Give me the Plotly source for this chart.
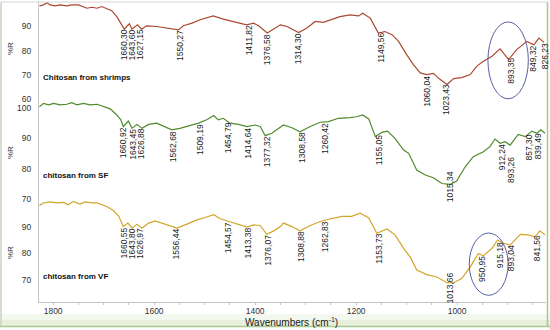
import numpy as np
import plotly.graph_objects as go

# ---------------- data ----------------
shrimp_wn = [1827, 1819, 1812, 1806, 1796, 1786, 1773, 1763, 1750, 1740, 1733, 1723, 1713, 1704, 1694,
             1684, 1674, 1666, 1659, 1653, 1649, 1644, 1638, 1633, 1625, 1615, 1595, 1575, 1562, 1552,
             1542, 1525, 1509, 1483, 1463, 1443, 1417, 1403, 1393, 1376, 1363, 1350, 1337, 1314, 1298,
             1281, 1265, 1248, 1232, 1212, 1195, 1187, 1172, 1156, 1143, 1129, 1116, 1100, 1087, 1073,
             1060, 1047, 1034, 1020, 1007, 991, 974, 961, 948, 931, 915, 898, 882, 862, 848, 838, 828]
shrimp_r = [98.6, 99.0, 99.9, 99.0, 98.6, 99.0, 98.6, 99.0, 99.0, 98.3, 97.6, 98.0, 97.6, 98.3, 97.6,
            96.6, 94.1, 91.4, 88.9, 90.3, 91.1, 88.9, 90.0, 90.7, 88.9, 90.3, 90.0, 89.3, 88.9, 88.6,
            90.3, 91.4, 92.8, 94.4, 93.1, 92.1, 90.7, 91.4, 90.3, 87.3, 88.9, 90.7, 90.0, 87.5, 89.3,
            92.1, 91.7, 92.8, 94.1, 94.8, 94.4, 95.5, 93.5, 87.3, 87.9, 86.6, 83.8, 78.3, 74.2, 70.7,
            70.0, 70.5, 68.0, 65.9, 68.3, 68.7, 70.0, 73.5, 75.5, 77.6, 80.7, 76.2, 80.4, 83.8, 82.4, 85.2, 83.4]

sf_wn = [1827, 1819, 1809, 1799, 1786, 1773, 1763, 1753, 1740, 1727, 1713, 1700, 1687, 1674, 1666,
         1661, 1651, 1644, 1634, 1624, 1611, 1595, 1578, 1565, 1549, 1529, 1512, 1496, 1482, 1473,
         1463, 1450, 1433, 1416, 1400, 1390, 1380, 1367, 1350, 1344, 1327, 1311, 1291, 1271, 1255,
         1235, 1212, 1199, 1187, 1175, 1162, 1149, 1138, 1123, 1106, 1096, 1080, 1063, 1047, 1030,
         1014, 1001, 984, 968, 948, 935, 925, 915, 905, 895, 879, 865, 852, 842, 834, 826]
sf_r = [100.3, 101.4, 100.9, 101.4, 100.9, 101.1, 101.6, 100.9, 101.4, 100.9, 101.1, 100.3, 99.6, 97.6, 96.0,
        93.8, 95.6, 93.2, 94.5, 93.2, 94.5, 94.9, 93.8, 92.7, 93.2, 94.1, 94.9, 96.0, 97.4, 96.0,
        96.5, 94.9, 94.5, 93.8, 94.3, 93.8, 90.8, 91.6, 93.8, 94.3, 93.4, 92.1, 93.8, 95.2, 95.4,
        96.5, 96.7, 97.0, 97.6, 96.3, 90.5, 91.9, 92.3, 89.9, 86.1, 85.0, 79.5, 77.9, 77.0, 75.1,
        74.8, 75.9, 80.6, 83.9, 85.5, 87.2, 89.7, 88.3, 88.8, 87.7, 91.2, 90.5, 92.3, 91.6, 92.7, 91.6]

vf_wn = [1827, 1819, 1806, 1793, 1780, 1770, 1760, 1747, 1737, 1723, 1713, 1704, 1694, 1680, 1670,
         1661, 1652, 1643, 1634, 1624, 1611, 1598, 1578, 1555, 1535, 1515, 1499, 1482, 1469, 1453,
         1436, 1416, 1403, 1390, 1377, 1363, 1350, 1344, 1327, 1311, 1291, 1271, 1251, 1228, 1209,
         1192, 1175, 1159, 1139, 1123, 1106, 1093, 1080, 1060, 1040, 1020, 1007, 991, 974, 958,
         948, 931, 920, 908, 895, 875, 859, 846, 836, 826]
vf_r = [97.9, 98.8, 99.2, 98.8, 99.0, 98.1, 99.4, 98.4, 99.2, 98.8, 98.8, 98.1, 97.5, 95.9, 93.8,
        90.0, 91.3, 89.4, 90.9, 89.4, 91.3, 92.1, 90.9, 89.4, 90.9, 92.5, 93.4, 94.4, 92.9, 91.9,
        90.9, 89.8, 90.6, 90.4, 87.1, 88.4, 90.0, 91.3, 90.0, 88.4, 90.4, 91.9, 92.9, 93.8, 93.8,
        95.0, 93.2, 87.5, 89.1, 86.9, 81.9, 78.7, 73.8, 72.1, 71.2, 69.1, 69.1, 70.6, 75.0, 80.0,
        79.1, 81.9, 85.0, 83.8, 83.1, 87.1, 86.9, 86.2, 88.4, 86.9]

shrimp_peaks = ["1660,30", "1643,60", "1627,15", "1550,27", "1411,82", "1376,58", "1314,30",
                "1149,56", "1060,04", "1023,43", "893,35", "849,32", "826,23"]
sf_peaks = ["1660,92", "1643,45", "1626,88", "1562,68", "1509,19", "1454,79", "1414,64", "1377,32",
            "1308,58", "1260,42", "1155,05", "1015,34", "912,24", "893,26", "857,30", "839,49"]
vf_peaks = ["1660,55", "1643,80", "1626,97", "1556,44", "1454,57", "1413,38", "1376,07", "1308,88",
            "1262,83", "1153,73", "1013,66", "950,95", "915,18", "893,04", "841,56"]

panel_titles = ["Chitosan from shrimps", "chitosan from SF", "chitosan from VF"]
x_ticks = [1800, 1600, 1400, 1200, 1000]
y_ticks = [[60, 70, 80, 90], [70, 80, 90, 100], [70, 80, 90]]
x_title = "Wavenumbers (cm<sup>-1</sup>)"
y_title = "%R"

# ---------------- layout geometry ----------------
W, H = 550, 330
L, R, T, B = 39, 4, 2, 28
PW, PH = W - L - R, H - T - B

def px(xp):
    return (xp - L) / PW

def py(yp):
    return 1 - (yp - T) / PH

FONT = "Liberation Sans, Arial, sans-serif"
colors = ["#aa4830", "#4f8a2c", "#d2a62a"]
series = [(shrimp_wn, shrimp_r, shrimp_peaks), (sf_wn, sf_r, sf_peaks), (vf_wn, vf_r, vf_peaks)]
yranges = [[59.4, 100.2], [69.7, 102.5], [61.9, 99.9]]
ydomains = [[py(100), 1.0], [py(200), py(100)], [0.0, py(200)]]
title_y = [77, 175, 276]
ytitle_y = [49, 153, 253]
# label placement tweaks (pixel shifts, as placed in the original)
label_shift = {(1, "1015,34"): 14, (1, "893,26"): -12, (2, "1013,66"): 11}

fig = go.Figure()
annotations = []
for i, (wn, r, peaks) in enumerate(series):
    yref = "y" if i == 0 else f"y{i + 1}"
    fig.add_trace(go.Scatter(x=wn, y=r, mode="lines", yaxis=yref, xaxis="x",
                             line=dict(color=colors[i], width=1.2), hoverinfo="skip",
                             showlegend=False))
    wn_a = np.array(wn[::-1], dtype=float)
    r_a = np.array(r[::-1], dtype=float)
    for lab in peaks:
        xv = float(lab.replace(",", "."))
        yv = float(np.interp(xv, wn_a, r_a))
        annotations.append(dict(x=xv, y=yv, xref="x", yref=yref, text=lab, textangle=-90,
                                showarrow=False, xanchor="center", yanchor="top",
                                yshift=label_shift.get((i, lab), 0), borderpad=0,
                                font=dict(family=FONT, size=8.5, color="#1a1a1a")))
    annotations.append(dict(x=px(41), y=py(title_y[i]), xref="paper", yref="paper",
                            text=f"<b>{panel_titles[i]}</b>", showarrow=False,
                            xanchor="left", yanchor="middle",
                            font=dict(family=FONT, size=8, color="#111111")))
    annotations.append(dict(x=px(10), y=py(ytitle_y[i]), xref="paper", yref="paper",
                            text=y_title, textangle=-90, showarrow=False,
                            xanchor="center", yanchor="middle",
                            font=dict(family=FONT, size=8, color="#333333")))

annotations.append(dict(x=px(291), y=py(322), xref="paper", yref="paper", text=x_title,
                        showarrow=False, xanchor="center", yanchor="middle",
                        font=dict(family=FONT, size=10, color="#222222")))

axis_line = "#c4c4c4"
layout = dict(
    width=W, height=H, autosize=False,
    margin=dict(l=L, r=R, t=T, b=B, pad=0),
    paper_bgcolor="white", plot_bgcolor="white",
    showlegend=False,
    xaxis=dict(range=[1828, 824], anchor="y3", tickvals=x_ticks, showgrid=False, zeroline=False,
               showline=True, linecolor=axis_line, linewidth=1,
               ticks="outside", ticklen=2, tickcolor=axis_line, ticklabelstandoff=-1,
               minor=dict(tick0=0, dtick=50, ticks="outside", ticklen=2, tickcolor=axis_line),
               tickfont=dict(family=FONT, size=8.5, color="#333333")),
    annotations=annotations,
)
for i in range(3):
    key = "yaxis" if i == 0 else f"yaxis{i + 1}"
    layout[key] = dict(domain=ydomains[i], range=yranges[i], anchor="x", tickvals=y_ticks[i],
                       showgrid=False, zeroline=False, showline=True, linecolor=axis_line,
                       linewidth=1, ticks="", ticklabelstandoff=5,
                       tickfont=dict(family=FONT, size=8.5, color="#333333"))

# decorative frame and highlight ellipses
shapes = [
    dict(type="rect", xref="paper", yref="paper", x0=px(0), x1=px(550), y0=py(326), y1=py(314),
         line=dict(width=0), fillcolor="#f3f8ee", layer="below"),
    dict(type="rect", xref="paper", yref="paper", x0=px(0), x1=px(550), y0=py(326), y1=py(320),
         line=dict(width=0), fillcolor="#e7f0dc", layer="below"),
    dict(type="line", xref="paper", yref="paper", x0=px(0), x1=px(550), y0=py(326.5), y1=py(326.5),
         line=dict(color="#a8c88c", width=1.5)),
    dict(type="line", xref="paper", yref="paper", x0=px(1), x1=px(1), y0=py(2), y1=py(326),
         line=dict(color="#c9d3c2", width=1.5)),
    dict(type="line", xref="paper", yref="paper", x0=px(1), x1=px(548), y0=py(2), y1=py(2),
         line=dict(color="#d4d4d4", width=1)),
    dict(type="line", xref="paper", yref="paper", x0=px(547.5), x1=px(547.5), y0=py(2), y1=py(326),
         line=dict(color="#a8c88c", width=1.5)),
    dict(type="circle", xref="x", yref="y", x0=939, x1=859, y0=59.9, y1=91.9,
         line=dict(color="#5a5fa6", width=1)),
    dict(type="circle", xref="x", yref="y3", x0=976, x1=899, y0=64.4, y1=87.6,
         line=dict(color="#5a5fa6", width=1)),
]
layout["shapes"] = shapes

fig.update_layout(**layout)
fig.write_html("out.html", config={"displayModeBar": False},
               post_script="document.body.style.margin='0px';")
